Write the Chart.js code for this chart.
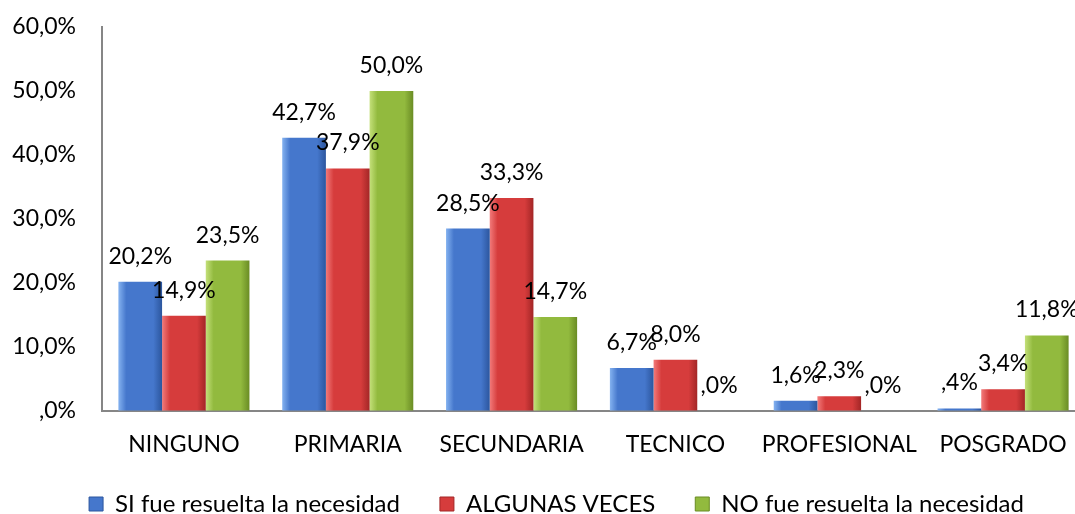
<!DOCTYPE html>
<html>
<head>
<meta charset="utf-8">
<script src="https://cdn.jsdelivr.net/npm/chart.js@4/dist/chart.umd.min.js"></script>
<style>
    html, body { margin: 0; padding: 0; background: #fff; overflow: hidden; }
    #wrap { width: 1075px; height: 514px; overflow: hidden; }
</style>
</head>
<body>
<div id="wrap"><canvas id="chart" width="1090" height="514"></canvas></div>
<script>
// ==================== data ====================
const categories = ['NINGUNO', 'PRIMARIA', 'SECUNDARIA', 'TECNICO', 'PROFESIONAL', 'POSGRADO'];
const seriesNames = ['SI fue resuelta la necesidad', 'ALGUNAS VECES', 'NO fue resuelta la necesidad'];
const siValues = [20.2, 42.7, 28.5, 6.7, 1.6, 0.4];
const algunasValues = [14.9, 37.9, 33.3, 8.0, 2.3, 3.4];
const noValues = [23.5, 50.0, 14.7, 0.0, 0.0, 11.8];
const yTicks = [0, 10, 20, 30, 40, 50, 60];

// light edge, body, dark edge
const palette = [
    ['#84b2f0', '#4577cc', '#2c569e'],
    ['#f27a7a', '#d63c3c', '#a32626'],
    ['#c4e07a', '#92ba3e', '#6a8c24']
];

const FONT = { family: 'Lato, "Open Sans", sans-serif', size: 23 };
const LEGEND_FONT = { family: 'Lato, "Open Sans", sans-serif', size: 24 };

// 20.2 -> "20,2%", 0.4 -> ",4%"
function fmtPct(v) {
    let s = Number(v).toFixed(1).replace('.', ',');
    if (s.startsWith('0,')) s = s.substring(1);
    return s + '%';
}

function barFill(cols) {
    return function (c) {
        if (c.type !== 'data') return cols[1];
        const bar = c.chart.getDatasetMeta(c.datasetIndex).data[c.dataIndex];
        if (!bar || !bar.width || isNaN(bar.x)) return cols[1];
        const x0 = bar.x - bar.width / 2;
        const g = c.chart.ctx.createLinearGradient(x0, 0, x0 + bar.width, 0);
        g.addColorStop(0, cols[0]);
        g.addColorStop(0.18, cols[1]);
        g.addColorStop(0.8, cols[1]);
        g.addColorStop(1, cols[2]);
        return g;
    };
}

// value labels above the bars
const valueLabels = {
    id: 'valueLabels',
    afterDatasetsDraw(chart) {
        const ctx = chart.ctx;
        ctx.save();
        ctx.font = FONT.size + 'px ' + FONT.family;
        ctx.fillStyle = '#000';
        ctx.textAlign = 'center';
        ctx.textBaseline = 'alphabetic';
        chart.data.datasets.forEach((ds, i) => {
            chart.getDatasetMeta(i).data.forEach((bar, j) => {
                ctx.fillText(fmtPct(ds.data[j]), bar.x, bar.y - 18);
            });
        });
        ctx.restore();
    }
};

// keep the legend strip short and nudge it right, like the original
const legendPlace = {
    id: 'legendPlace',
    beforeLayout(chart) {
        const lg = chart.legend;
        if (lg && !lg._fixed) {
            const fit = lg.fit;
            lg.fit = function () {
                fit.call(this);
                this.height = 62;
            };
            lg._fixed = true;
        }
    },
    afterLayout(chart) {
        const lg = chart.legend;
        if (lg) {
            lg.left += 14;
            lg.right += 14;
        }
    }
};

const chart = new Chart(document.getElementById('chart'), {
    type: 'bar',
    data: {
        labels: categories,
        datasets: [siValues, algunasValues, noValues].map((vals, i) => ({
            label: seriesNames[i],
            data: vals,
            backgroundColor: barFill(palette[i]),
            borderWidth: 0,
            barPercentage: 1,
            categoryPercentage: 0.8
        }))
    },
    options: {
        responsive: false,
        animation: false,
        devicePixelRatio: 1,
        layout: { padding: { top: 27, right: 5, left: 0, bottom: 0 } },
        plugins: {
            tooltip: { enabled: false },
            legend: {
                position: 'bottom',
                labels: {
                    font: LEGEND_FONT,
                    color: '#000',
                    boxWidth: 14,
                    boxHeight: 14,
                    padding: 40,
                    generateLabels(chart) {
                        return chart.data.datasets.map((ds, i) => ({
                            text: ds.label,
                            fillStyle: palette[i][1],
                            strokeStyle: palette[i][2],
                            lineWidth: 1,
                            fontColor: '#000',
                            datasetIndex: i
                        }));
                    }
                }
            }
        },
        scales: {
            x: {
                grid: { display: false, drawTicks: false },
                border: { display: true, color: '#868686', width: 2 },
                ticks: { font: FONT, color: '#000', padding: 20, maxRotation: 0, autoSkip: false },
                afterFit(scale) { scale.height = 41; }
            },
            y: {
                min: 0,
                max: 60,
                afterBuildTicks(scale) { scale.ticks = yTicks.map(v => ({ value: v })); },
                grid: {
                    display: true,
                    drawOnChartArea: false,
                    drawTicks: true,
                    tickLength: 22,
                    color: 'rgba(0,0,0,0)'
                },
                border: { display: true, color: '#868686', width: 2 },
                ticks: { font: FONT, color: '#000', padding: 4, callback: v => fmtPct(v) },
                afterFit(scale) { scale.width = 102; }
            }
        }
    },
    plugins: [valueLabels, legendPlace]
});

// second pass so the gradients know where each bar sits
chart.update();
</script>
</body>
</html>
